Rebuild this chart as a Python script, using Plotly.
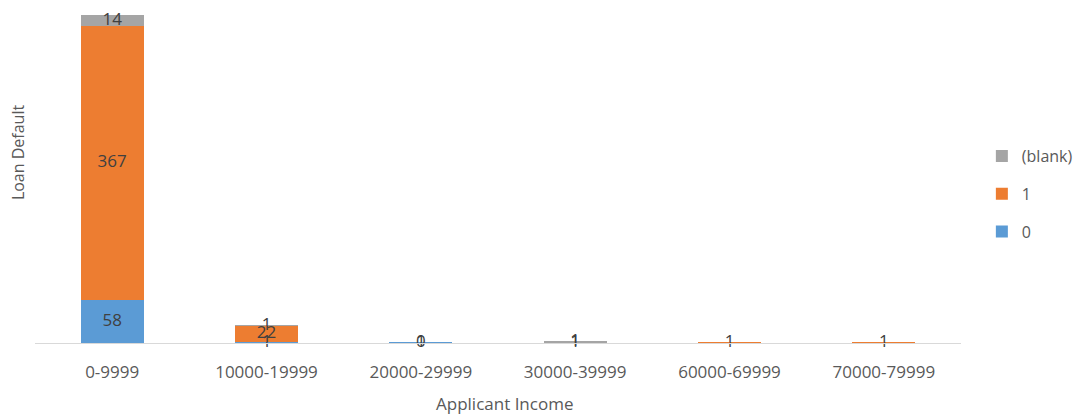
import plotly.graph_objects as go

# Loan default counts by applicant income band
income_bands = ["0-9999", "10000-19999", "20000-29999", "30000-39999", "60000-69999", "70000-79999"]
default_0 = [58, 1, 1, None, None, None]
default_1 = [367, 22, 0, 1, 1, 1]
default_blank = [14, 1, None, 1, None, None]

# (name, values, colour, legend rank) — stacked bottom to top
series = [
    ("0", default_0, "#5B9BD5", 3),
    ("1", default_1, "#ED7D31", 2),
    ("(blank)", default_blank, "#A5A5A5", 1),
]

FONT = "Open Sans, sans-serif"
TEXT = "#595959"
FS = 17

W, H = 1085, 415
ML, MR, MT, MB = 35, 118, 7, 72
PW, PH = W - ML - MR, H - MT - MB


def px_x(x):
    return (x - ML) / PW


def px_y(y):
    return (H - MB - y) / PH


fig = go.Figure()
for name, vals, color, rank in series:
    fig.add_trace(go.Bar(
        x=income_bands, y=[v if v is not None else 0 for v in vals],
        name=name, legendgroup=name, legendrank=rank,
        marker=dict(color=color, line=dict(width=0)),
        hoverinfo="x+y+name",
    ))

# Value labels placed at the middle of each stacked segment
lx, ly, lt = [], [], []
base = [0] * len(income_bands)
for name, vals, color, rank in series:
    for i, v in enumerate(vals):
        if v is None:
            continue
        lx.append(income_bands[i])
        ly.append(base[i] + v / 2)
        lt.append(str(v))
        base[i] += v
fig.add_trace(go.Scatter(
    x=lx, y=ly, text=lt, mode="text", showlegend=False,
    textfont=dict(family=FONT, size=FS, color="#404040"),
    hoverinfo="skip", cliponaxis=False,
))

fig.update_layout(
    width=W, height=H,
    barmode="stack", bargap=0.59,
    paper_bgcolor="white", plot_bgcolor="white",
    margin=dict(l=ML, r=MR, t=MT, b=MB),
    font=dict(family=FONT, size=FS, color=TEXT),
    legend=dict(
        traceorder="grouped", x=px_x(988), y=px_y(194),
        yanchor="middle", xanchor="left",
        font=dict(family=FONT, size=FS - 1, color=TEXT), itemwidth=30,
        tracegroupgap=14,
    ),
    xaxis=dict(
        showline=True, linecolor="#D9D9D9", linewidth=1,
        ticks="outside", ticklen=14, tickcolor="rgba(0,0,0,0)",
        tickfont=dict(family=FONT, size=FS, color=TEXT),
        showgrid=False, zeroline=False,
    ),
    yaxis=dict(
        range=[0, 450], showticklabels=False, showgrid=False,
        zeroline=False, showline=False,
    ),
    annotations=[
        dict(text="Applicant Income", x=px_x(508), y=px_y(403),
             xref="paper", yref="paper", xanchor="center", yanchor="middle",
             showarrow=False, font=dict(family=FONT, size=FS, color=TEXT)),
        dict(text="Loan Default", x=px_x(18), y=px_y(152),
             xref="paper", yref="paper", xanchor="center", yanchor="middle",
             textangle=-90, showarrow=False,
             font=dict(family=FONT, size=FS - 1, color=TEXT)),
    ],
)

fig.write_html("out.html")
